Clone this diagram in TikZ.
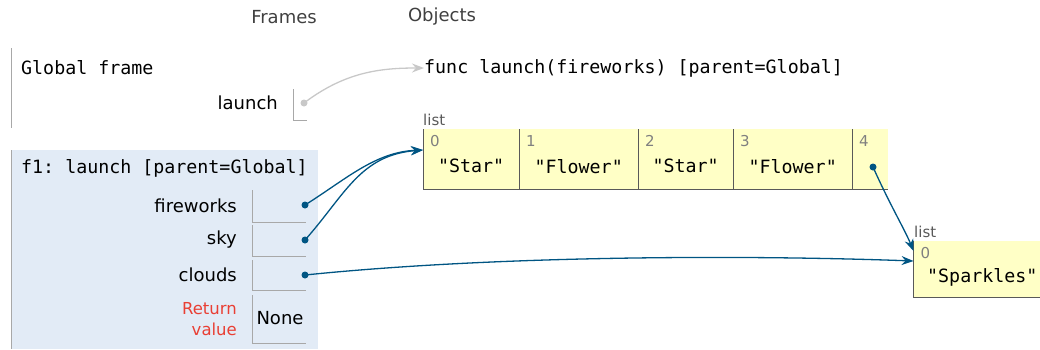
\documentclass[tikz,border=0pt]{standalone}
\usepackage{fontspec}
\setmainfont{DejaVu Sans}
\setmonofont{DejaVu Sans Mono}
\usetikzlibrary{arrows.meta,positioning}
\definecolor{framebg}{HTML}{E2EBF6}
\definecolor{heapbg}{HTML}{FFFFC6}
\definecolor{ptrblue}{HTML}{005583}
\definecolor{funcgray}{HTML}{C8C8C8}
\definecolor{retred}{HTML}{E93F34}
\definecolor{idxgray}{HTML}{808080}
\definecolor{edgegray}{HTML}{A8A8A8}
\tikzset{
	hdr/.style      = {font=\fontsize{18}{20}\selectfont, text=black!75, inner sep=0pt},
	framename/.style= {font=\ttfamily\fontsize{18.3}{20}\selectfont, anchor=west, inner sep=0pt},
	varname/.style  = {font=\fontsize{18}{20}\selectfont, anchor=east, inner sep=0pt, align=right},
	slot/.style     = {anchor=north west, inner sep=0pt, minimum width=54pt},
	cell/.style     = {anchor=north west, fill=heapbg, inner sep=0pt, minimum height=60pt},
	idx/.style      = {font=\fontsize{15}{16}\selectfont, text=idxgray, anchor=north west, inner sep=0pt},
	val/.style      = {font=\ttfamily\fontsize{18.3}{20}\selectfont, inner sep=0pt},
	tag/.style      = {font=\fontsize{15}{16}\selectfont, text=black!65, anchor=south west, inner sep=0pt},
	dot/.style      = {circle, fill=ptrblue, inner sep=0pt, minimum size=7pt},
	ptr/.style      = {draw=ptrblue, line width=1.3pt, -{Stealth[length=12pt,width=9pt,inset=4pt]}},
}

\begin{document}
\begin{tikzpicture}[x=1pt, y=-1pt]
		\useasboundingbox (0,0) rectangle (1040,349);
		
		% Headings
		\node[hdr] (frames)  at (284,17) {Frames};
		\node[hdr] (objects) at (442,17) {Objects};
		
		% Global frame
		\draw[edgegray, line width=1.5pt] (11.5,48) -- (11.5,128);
		\node[framename] (global) at (21,68) {Global frame};
		\node[varname] (launchname) at (278,103) {launch};
		\draw[edgegray, line width=1pt] (293,89) |- (307,120);
		\node[circle, fill=funcgray, inner sep=0pt, minimum size=7pt] (launchdot) at (304,103) {};
		\node[framename] (func) at (424,68) {func launch(fireworks) [parent=Global]};
		
		% Frame f1
		\fill[framebg] (11,150) rectangle (318,349);
		\draw[edgegray, line width=1.5pt] (11.5,150) -- (11.5,349);
		\node[framename] (f1) at (21,168) {f1: launch [parent=Global]};
		\node[varname] (fireworks) at (237,206) {fireworks};
		\node[varname] (sky)       at (237,240) {sky};
		\node[varname] (clouds)    at (237,275) {clouds};
		\node[varname, text=retred, font=\fontsize{16.5}{21}\selectfont] (retval) at (237,319) {Return\\value};
		\foreach \name/\top/\h in {fwslot/190/32, skyslot/225/31, cloudslot/260/30, retslot/295/48} {
			\node[slot, minimum height=\h pt] (\name) at (252,\top) {};
			\draw[edgegray, line width=1pt] (\name.north west) |- (\name.south east);
		}
		\node[font=\fontsize{18}{20}\selectfont, inner sep=0pt] (none) at (280,318) {None};
		\node[dot] (fwdot)    at (305,205) {};
		\node[dot] (skydot)   at (305,240) {};
		\node[dot] (clouddot) at (305,275) {};
		
		% List 1
		\node[tag] (listtag) at (423,126) {list};
		\foreach \name/\x/\w/\i/\v in {c0/423/96/0/"Star", c1/519/119/1/"Flower", c2/638/95/2/"Star", c3/733/119/3/"Flower", c4/852/36/4/} {
			\node[cell, minimum width=\w pt] (\name) at (\x,129) {};
			\draw[black!65, line width=1pt] (\name.north west) |- (\name.south east);
			\node[idx] at ([shift={(7,6)}]\name.north west) {\i};
			\node[val] at ([shift={(0,7)}]\name.center) {\v};
		}
		\node[dot] (c4dot) at (873,167) {};
		
		% List 2
		\node[tag] (sparktag) at (914,238) {list};
		\node[cell, minimum width=130pt, minimum height=56pt] (s0) at (913.5,241) {};
		\draw[black!65, line width=1pt] (s0.north west) |- (s0.south east);
		\node[idx] at ([shift={(7,6)}]s0.north west) {0};
		\node[val, anchor=west] (sparkles) at (927,277) {"Sparkles"};
		
		% Pointers
		\draw[draw=funcgray, line width=1.3pt, -{Stealth[length=12pt,width=9pt,inset=4pt]}]
			(launchdot.center) .. controls (345,72) and (380,68) .. (func.west);
		\draw[ptr] (fwdot.center) .. controls (345,180) and (375,152) .. (c0.west |- 0,150);
		\draw[ptr] (skydot.center) .. controls (345,195) and (360,155) .. (c0.west |- 0,150);
		\draw[ptr] (clouddot.center) .. controls (500,255) and (750,255) .. (s0.west |- 0,261);
		\draw[ptr] (c4dot.center) .. controls (890,205) and (905,230) .. (s0.west |- 0,251);
	\end{tikzpicture}
\end{document}
